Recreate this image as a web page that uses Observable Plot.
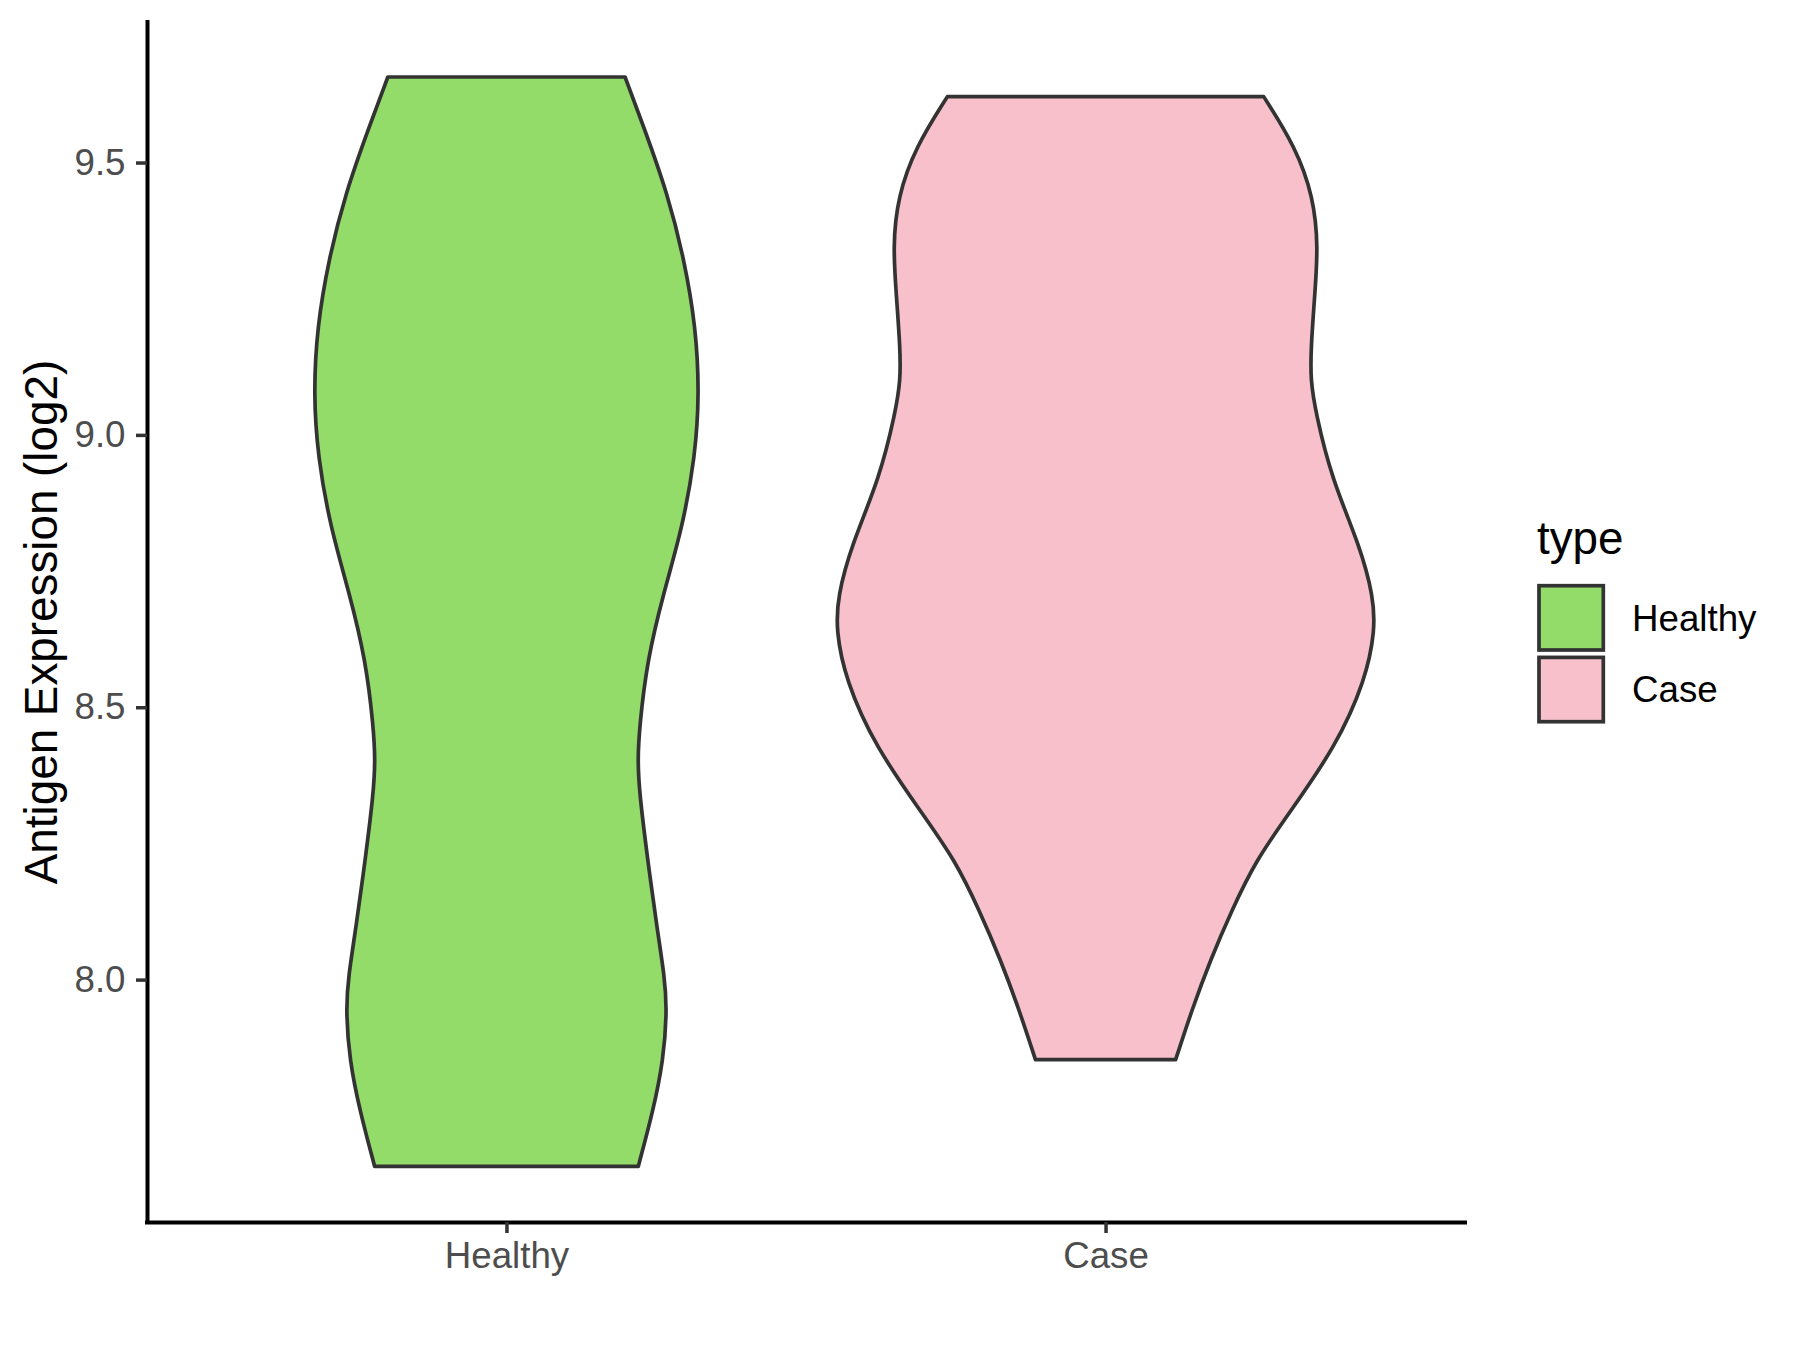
<!DOCTYPE html>
<html>
<head>
<meta charset="utf-8">
<script src="https://cdn.jsdelivr.net/npm/d3@7"></script>
<script src="https://cdn.jsdelivr.net/npm/@observablehq/plot@0.6"></script>
<style>
  html, body { margin: 0; padding: 0; background: #ffffff; }
  #chart { width: 1800px; height: 1350px; }
</style>
</head>
<body>
<div id="chart"></div>
<script>
// ---- Data ----
const categories = ["Healthy", "Case"];
const fillColors = ["#93DC6A", "#F7C0CB"];

// Violin outline: expression value and half-width (in category units)
const healthyValue = [9.657, 9.566, 9.443, 9.321, 9.199, 9.076, 8.960, 8.831, 8.709, 8.587, 8.464, 8.403, 8.342, 8.226, 8.097, 8.005, 7.944, 7.852, 7.760, 7.657];
const healthyWidth = [0.198, 0.229, 0.269, 0.297, 0.316, 0.322, 0.315, 0.294, 0.262, 0.235, 0.222, 0.219, 0.222, 0.235, 0.251, 0.264, 0.268, 0.262, 0.245, 0.220];

const caseValue = [9.621, 9.529, 9.437, 9.345, 9.254, 9.162, 9.101, 9.040, 8.921, 8.795, 8.703, 8.642, 8.550, 8.427, 8.305, 8.219, 8.128, 8.036, 7.944, 7.853];
const caseWidth = [0.264, 0.317, 0.347, 0.355, 0.349, 0.343, 0.342, 0.351, 0.377, 0.425, 0.447, 0.450, 0.434, 0.384, 0.306, 0.251, 0.211, 0.175, 0.144, 0.117];

const yTicks = [8.0, 8.5, 9.0, 9.5];
const yDomain = [7.555, 9.758];
const xDomain = [0.4, 2.6];

const yTitle = "Antigen Expression (log2)";
const legendTitle = "type";

// ---- Build table ----
const rows = [];
healthyValue.forEach((v, i) => rows.push({type: "Healthy", pos: 1, v, w: healthyWidth[i]}));
caseValue.forEach((v, i) => rows.push({type: "Case", pos: 2, v, w: caseWidth[i]}));

const font = "'Liberation Sans', Arial, Helvetica, sans-serif";

const chart = Plot.plot({
  width: 1800,
  height: 1350,
  marginLeft: 147,
  marginRight: 335,
  marginTop: 22,
  marginBottom: 128,
  style: {fontFamily: font, background: "#ffffff", overflow: "visible"},
  x: {domain: xDomain, label: null},
  y: {domain: yDomain, label: null},
  color: {domain: categories, range: fillColors},
  marks: [
    Plot.areaX(rows, {
      y: "v",
      x1: d => d.pos - d.w,
      x2: d => d.pos + d.w,
      z: "type",
      fill: "type",
      stroke: "#333333",
      strokeWidth: 3.7,
      strokeLinejoin: "round",
      curve: "basis"
    }),
    Plot.ruleX([xDomain[0]], {stroke: "#000000", strokeWidth: 4, strokeLinecap: "square"}),
    Plot.ruleY([yDomain[0]], {stroke: "#000000", strokeWidth: 4, strokeLinecap: "square"}),
    Plot.axisX({
      ticks: [1, 2],
      tickFormat: d => categories[d - 1],
      tickSize: 11,
      tickPadding: 8,
      fontSize: 36.7,
      stroke: "#333333",
      strokeWidth: 3.5,
      fill: "#4D4D4D",
      label: null
    }),
    Plot.axisY({
      ticks: yTicks,
      tickFormat: d => d.toFixed(1),
      tickSize: 11,
      tickPadding: 11,
      fontSize: 36.7,
      stroke: "#333333",
      strokeWidth: 3.5,
      fill: "#4D4D4D",
      label: null
    })
  ]
});

document.getElementById("chart").appendChild(chart);

// ---- Y title and legend (text) ----
const svg = d3.select(chart);
svg.append("text")
  .attr("transform", "translate(57,622) rotate(-90)")
  .attr("text-anchor", "middle")
  .attr("font-family", font)
  .attr("font-size", 45.8)
  .attr("fill", "#000000")
  .text(yTitle);

const lg = svg.append("g").attr("text-anchor", "start");
lg.append("text")
  .attr("x", 1537)
  .attr("y", 554)
  .attr("text-anchor", "start")
  .attr("font-family", font)
  .attr("font-size", 45.8)
  .attr("fill", "#000000")
  .text(legendTitle);

categories.forEach((c, i) => {
  lg.append("rect")
    .attr("x", 1539)
    .attr("y", 585.7 + i * 71.7)
    .attr("width", 64.3)
    .attr("height", 64.3)
    .attr("fill", fillColors[i])
    .attr("stroke", "#333333")
    .attr("stroke-width", 3.7);
  lg.append("text")
    .attr("x", 1632)
    .attr("y", 630.7 + i * 71)
    .attr("text-anchor", "start")
    .attr("font-family", font)
    .attr("font-size", 36.7)
    .attr("fill", "#000000")
    .text(c);
});
</script>
</body>
</html>
